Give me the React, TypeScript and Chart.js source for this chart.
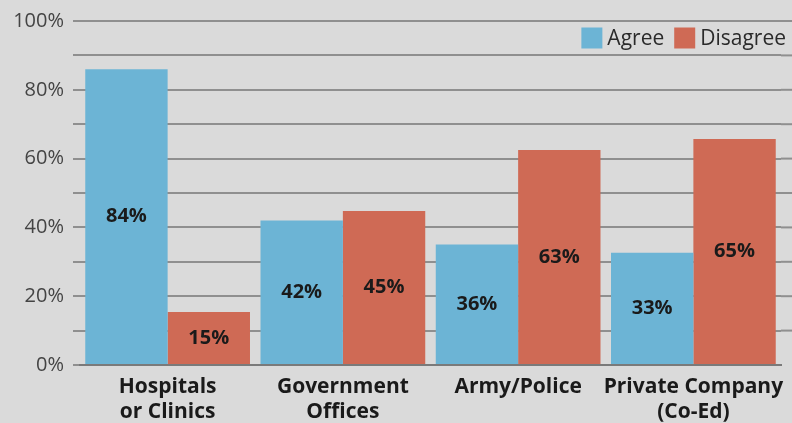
import React, { useEffect, useRef } from "react";
import { Chart, registerables } from "chart.js";

Chart.register(...registerables);

const categories: string[][] = [
  ["Hospitals", "or Clinics"],
  ["Government", "Offices"],
  ["Army/Police"],
  ["Private Company", "(Co-Ed)"],
];
const agreeValues = [86, 42, 35, 32.6];
const disagreeValues = [15.4, 44.8, 62.5, 65.7];
const agreeLabels = ["84%", "42%", "36%", "33%"];
const disagreeLabels = ["15%", "45%", "63%", "65%"];
const seriesNames = ["Agree", "Disagree"];
const seriesColors = ["#6cb4d5", "#cf6a55"];

const FONT = "'Open Sans', sans-serif";

const valueLabelPlugin = {
  id: "valueLabels",
  afterDatasetsDraw(chart: any) {
    const ctx = chart.ctx;
    const texts = [agreeLabels, disagreeLabels];
    ctx.save();
    ctx.font = `bold 20px ${FONT}`;
    ctx.fillStyle = "#1a1a1a";
    ctx.textAlign = "center";
    ctx.textBaseline = "middle";
    chart.data.datasets.forEach((_: any, di: number) => {
      const meta = chart.getDatasetMeta(di);
      meta.data.forEach((el: any, i: number) => {
        const y = (el.y + el.base) / 2;
        ctx.fillText(texts[di][i], el.x, y);
      });
    });
    ctx.restore();
  },
};

const legendPlugin = {
  id: "cornerLegend",
  afterDraw(chart: any) {
    const ctx = chart.ctx;
    ctx.save();
    ctx.font = `21px ${FONT}`;
    ctx.textBaseline = "middle";
    ctx.textAlign = "left";
    const box = 21;
    const gapBox = 5;
    const gapItem = 10;
    const ds = chart.data.datasets;
    const widths = ds.map((d: any) => box + gapBox + ctx.measureText(d.label).width);
    const total = widths.reduce((a: number, b: number) => a + b, 0) + gapItem * (ds.length - 1);
    let x = chart.width - 6 - total;
    const cy = chart.chartArea.top + 17;
    ds.forEach((d: any, i: number) => {
      ctx.fillStyle = d.backgroundColor;
      ctx.fillRect(x, cy - box / 2, box, box);
      ctx.fillStyle = "#2a2a2a";
      ctx.fillText(d.label, x + box + gapBox, cy + 1);
      x += widths[i] + gapItem;
    });
    ctx.restore();
  },
};

const extendGridPlugin = {
  id: "extendGrid",
  beforeDatasetsDraw(chart: any) {
    const ctx = chart.ctx;
    const yScale = chart.scales.y;
    const right = chart.chartArea.right;
    ctx.save();
    ctx.strokeStyle = "#8f8f8f";
    ctx.lineWidth = 2;
    yScale.ticks.forEach((t: any) => {
      if (t.value === 0) return;
      const y = yScale.getPixelForValue(t.value);
      ctx.beginPath();
      ctx.moveTo(right, y);
      ctx.lineTo(chart.width, y);
      ctx.stroke();
    });
    ctx.restore();
  },
};

export default function App() {
  const ref = useRef<HTMLCanvasElement>(null);
  useEffect(() => {
    document.body.style.margin = "0";
    document.body.style.background = "#dadada";
    const chart = new Chart(ref.current!, {
      type: "bar",
      data: {
        labels: categories,
        datasets: [
          { label: seriesNames[0], data: agreeValues, backgroundColor: seriesColors[0] },
          { label: seriesNames[1], data: disagreeValues, backgroundColor: seriesColors[1] },
        ],
      },
      options: {
        animation: false,
        responsive: false,
        maintainAspectRatio: false,
        layout: { padding: { top: 21, right: 11, left: 0, bottom: 0 } },
        datasets: { bar: { categoryPercentage: 0.94, barPercentage: 1.0 } },
        plugins: { legend: { display: false }, tooltip: { enabled: false } },
        scales: {
          x: {
            grid: { display: false },
            border: { display: true, color: "#7a7a7a", width: 2 },
            ticks: {
              font: { family: FONT, size: 21, weight: "bold", lineHeight: 1.2 },
              color: "#1a1a1a",
              padding: 1,
              maxRotation: 0,
              autoSkip: false,
            },
            afterFit(scale: any) {
              scale.height = 58;
            },
          },
          y: {
            min: 0,
            max: 100,
            border: { display: false },
            grid: { color: "#8f8f8f", lineWidth: 2, tickLength: 7, drawTicks: true },
            ticks: {
              stepSize: 10,
              font: { family: FONT, size: 20 },
              color: "#444444",
              padding: 9,
              callback: (v: any) => (Number(v) % 20 === 0 ? `${v}%` : ""),
            },
            afterFit(scale: any) {
              scale.width = 80;
            },
          },
        },
      },
      plugins: [extendGridPlugin, valueLabelPlugin, legendPlugin],
    } as any);
    return () => chart.destroy();
  }, []);
  return (
    <div style={{ width: 792, height: 423, background: "#dadada" }}>
      <canvas ref={ref} width={792} height={423} style={{ display: "block" }} />
    </div>
  );
}
